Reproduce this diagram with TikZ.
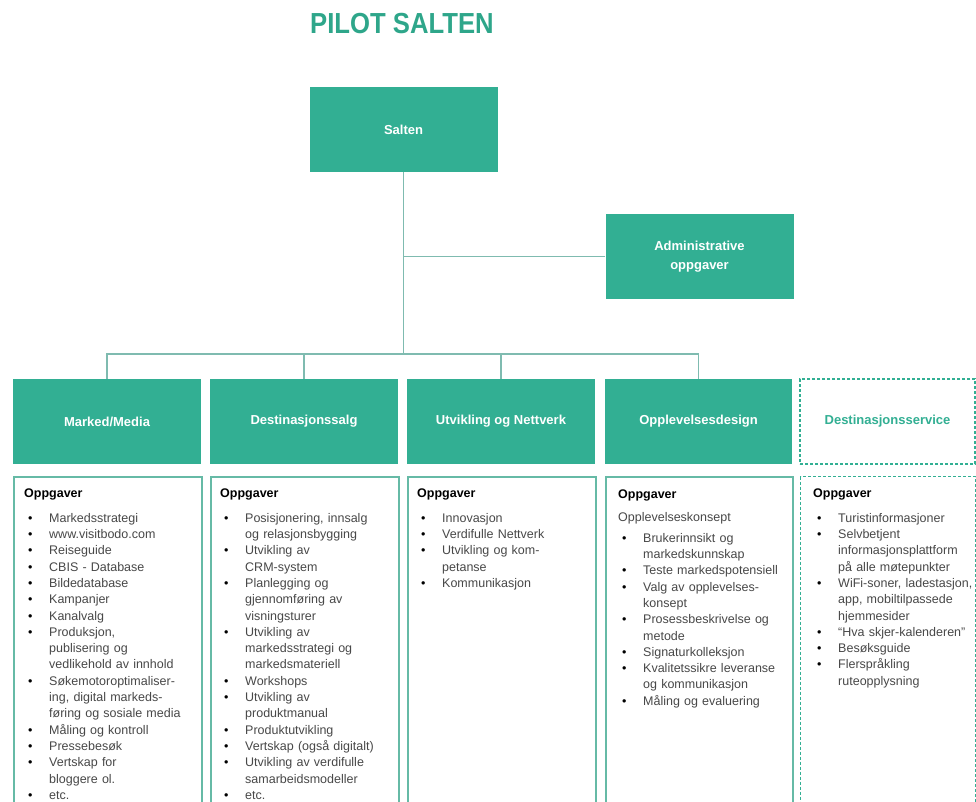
\documentclass[tikz,border=0pt]{standalone}
\usepackage{fontspec}
\setmainfont{Liberation Sans}
\usetikzlibrary{calc}
\definecolor{teal1}{HTML}{32AF93}
\definecolor{tealtitle}{HTML}{2EA68A}
\definecolor{conncol}{HTML}{7FBBB0}
\definecolor{bordercol}{HTML}{66BAA6}
\definecolor{itemgray}{HTML}{484848}
\newcommand\oppg[1][8.2pt]{\rule{0pt}{10pt}{\bfseries\color{black}Oppgaver}\par\vspace{#1}}
\newcommand\bl[1]{\par\noindent\hangindent=25pt\hangafter=1\makebox[25pt][l]{\hspace{4pt}\textcolor{black}{\textbullet}}#1\par}
\tikzset{
  gbox/.style={fill=teal1, draw=none, minimum width=188pt, minimum height=85pt, inner sep=0pt,
    text=white, font=\fontsize{13}{19}\selectfont\bfseries, align=center},
  dbox/.style={draw=teal1, dash pattern=on 3pt off 2pt, line width=1.4pt, minimum width=175pt,
    minimum height=85pt, inner sep=0pt, text=teal1, font=\fontsize{13}{19}\selectfont\bfseries, align=center},
  tbox/.style={draw=bordercol, line width=1.5pt, minimum width=188pt, minimum height=340pt,
    anchor=north west, inner sep=0pt},
  tdbox/.style={tbox, draw=teal1, dash pattern=on 3pt off 2pt, line width=1.4pt, minimum width=175pt},
  lst/.style={anchor=north west, inner sep=0pt, text width=200pt, align=left,
    font=\fontsize{12.5}{16.3}\selectfont, text=itemgray},
  conn/.style={draw=conncol, line width=1.5pt},
}
\begin{document}
\begin{tikzpicture}[x=1pt,y=-1pt]
\useasboundingbox (0,0) rectangle (976,801);
\clip (0,0) rectangle (976,801);
\fill[white] (0,0) rectangle (976,801);
% title
\node[anchor=base west, text=tealtitle, font=\fontsize{29}{29}\selectfont\bfseries, inner sep=0pt]
  (title) at (310,33) {\scalebox{0.885}[1]{PILOT SALTEN}};
% top boxes
\node[gbox] (salten) at (403.5,129.5) {Salten};
\node[gbox] (admin) at (699.5,256.5) {Administrative\\oppgaver};
% row of units
\node[gbox] (mm) at (107,421.5) {Marked/Media};
\node[gbox] (ds) at (304,421.5) {Destinasjonssalg};
\node[gbox] (un) at (501,421.5) {Utvikling og Nettverk};
\node[gbox, minimum width=187pt] (ov) at (698.5,421.5) {\raisebox{2pt}{Opplevelsesdesign}};
\node[dbox] (dsv) at (887.5,421.5) {Destinasjonsservice};
% connectors
\coordinate (bus) at (402,354);
\draw[conn] (salten.south) -- (salten.south |- bus);
\draw[conn] (admin.west) -- (admin.west -| salten.south);
\draw[conn] (mm.north) -- (mm.north |- bus) -- (ov.north |- bus) -- (ov.north);
\draw[conn] (ds.north) -- (ds.north |- bus);
\draw[conn] (un.north) -- (un.north |- bus);
% task boxes
\node[tbox] (mmt) at (13,476) {};
\node[tbox] (dst) at (210,476) {};
\node[tbox] (unt) at (407,476) {};
\node[tbox, minimum width=187pt] (ovt) at (605,476) {};
\node[tdbox] (dsvt) at (800,476) {};
% lists
\node[lst] (mml) at ($(mmt.north west)+(11,11.5)$) {\oppg
\bl{Markedsstrategi}
\bl{www.visitbodo.com}
\bl{Reiseguide}
\bl{CBIS - Database}
\bl{Bildedatabase}
\bl{Kampanjer}
\bl{Kanalvalg}
\bl{Produksjon,\newline publisering og\newline vedlikehold av innhold}
\bl{Søkemotoroptimaliser-\newline ing, digital markeds-\newline føring og sosiale media}
\bl{Måling og kontroll}
\bl{Pressebesøk}
\bl{Vertskap for\newline bloggere ol.}
\bl{etc.}
};
\node[lst] (dsl) at ($(dst.north west)+(10,11.5)$) {\oppg
\bl{Posisjonering, innsalg\newline og relasjonsbygging}
\bl{Utvikling av\newline CRM-system}
\bl{Planlegging og\newline gjennomføring av\newline visningsturer}
\bl{Utvikling av\newline markedsstrategi og\newline markedsmateriell}
\bl{Workshops}
\bl{Utvikling av\newline produktmanual}
\bl{Produktutvikling}
\bl{Vertskap (også digitalt)}
\bl{Utvikling av verdifulle\newline samarbeidsmodeller}
\bl{etc.}
};
\node[lst] (unl) at ($(unt.north west)+(10,11.5)$) {\oppg
\bl{Innovasjon}
\bl{Verdifulle Nettverk}
\bl{Utvikling og kom-\newline petanse}
\bl{Kommunikasjon}
};
\node[lst] (ovl) at ($(ovt.north west)+(13,12)$) {\oppg[6.7pt]
\noindent Opplevelseskonsept\par\vspace{4.7pt}
\bl{Brukerinnsikt og\newline markedskunnskap}
\bl{Teste markedspotensiell}
\bl{Valg av opplevelses-\newline konsept}
\bl{Prosessbeskrivelse og\newline metode}
\bl{Signaturkolleksjon}
\bl{Kvalitetssikre leveranse\newline og kommunikasjon}
\bl{Måling og evaluering}
};
\node[lst] (dsvl) at ($(dsvt.north west)+(13,11.5)$) {\oppg
\bl{Turistinformasjoner}
\bl{Selvbetjent\newline informasjonsplattform\newline på alle møtepunkter}
\bl{WiFi-soner, ladestasjon,\newline app, mobiltilpassede\newline hjemmesider}
\bl{“Hva skjer-kalenderen”}
\bl{Besøksguide}
\bl{Flerspråkling\newline ruteopplysning}
};
\end{tikzpicture}
\end{document}
